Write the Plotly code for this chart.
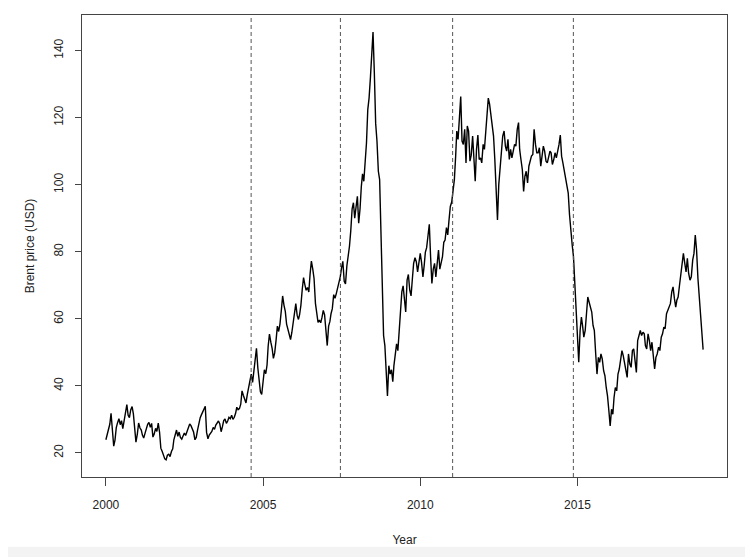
import pandas as pd
import plotly.graph_objects as go

# Brent price readings, two per month (1st and 16th)
p2000 = [23.9, 25.8, 27.2, 28.6, 31.8, 27.0, 22.0, 23.8, 27.5, 29.0, 30.2, 28.4,
         29.6, 27.2, 30.1, 31.8, 34.4, 31.2, 30.5, 32.8, 33.8, 31.6, 26.5, 23.2]
p2001 = [25.6, 28.9, 27.4, 26.8, 25.3, 24.4, 25.9, 27.3, 28.5, 29.1, 27.6, 28.8,
         24.7, 25.6, 27.3, 26.4, 28.9, 26.2, 21.4, 20.5, 19.3, 18.2, 17.9, 19.3]
p2002 = [19.6, 18.9, 20.4, 21.2, 23.9, 25.6, 26.8, 24.9, 26.2, 24.6, 24.1, 25.0,
         25.9, 25.2, 26.3, 27.4, 28.6, 28.1, 27.3, 26.2, 23.9, 24.6, 26.8, 29.1]
p2003 = [30.5, 31.4, 32.2, 33.0, 33.9, 26.1, 24.2, 25.3, 25.8, 26.4, 27.6, 27.0,
         28.3, 28.9, 29.5, 28.7, 26.3, 27.8, 29.6, 30.1, 28.8, 29.5, 30.6, 30.2]
p2004 = [31.2, 30.0, 30.6, 31.8, 33.6, 32.9, 33.2, 34.5, 38.5, 37.2, 35.6, 34.9,
         37.4, 39.8, 42.2, 43.5, 41.0, 44.6, 48.6, 51.2, 45.3, 42.0, 38.2, 37.4]
p2005 = [42.0, 44.8, 43.6, 46.2, 51.8, 55.4, 53.0, 51.2, 48.2, 49.8, 53.6, 57.8,
         56.2, 58.4, 62.5, 66.8, 64.0, 62.2, 58.4, 56.9, 55.2, 53.8, 55.9, 58.6]
p2006 = [61.8, 64.5, 61.0, 59.8, 61.2, 64.0, 68.8, 72.3, 70.2, 68.5, 69.3, 68.0,
         73.4, 77.2, 74.8, 72.0, 64.6, 61.5, 58.9, 59.6, 58.8, 60.4, 62.5, 61.2]
p2007 = [55.3, 52.0, 57.8, 59.2, 61.5, 63.0, 67.2, 66.1, 67.5, 69.0, 70.3, 72.5,
         75.2, 77.1, 71.2, 70.4, 75.8, 78.6, 81.6, 86.2, 92.8, 94.6, 90.0, 93.2]
p2008 = [96.5, 88.5, 92.8, 99.5, 103.2, 101.0, 106.8, 112.5, 122.4, 125.8, 132.0, 137.5,
         145.5, 133.6, 118.2, 113.0, 104.0, 101.5, 88.0, 72.0, 55.0, 52.0, 44.5, 37.0]
p2009 = [46.0, 43.5, 44.8, 41.2, 46.0, 49.8, 52.5, 50.5, 57.2, 60.8, 68.0, 69.8,
         64.5, 62.0, 71.5, 73.2, 68.5, 66.8, 71.8, 76.5, 78.2, 77.0, 74.0, 76.5]
p2010 = [79.5, 76.8, 72.5, 76.0, 79.8, 81.2, 84.5, 88.2, 78.5, 70.5, 74.8, 76.5,
         72.5, 77.0, 80.5, 74.8, 77.2, 78.5, 82.8, 83.5, 87.2, 85.0, 89.5, 93.5]
p2011 = [94.8, 97.5, 101.5, 108.5, 116.0, 113.5, 121.5, 126.3, 113.0, 112.0, 116.5, 106.5,
         117.5, 116.0, 107.0, 108.8, 114.5, 109.0, 101.0, 110.5, 114.8, 107.5, 108.0, 106.5]
p2012 = [112.0, 110.5, 116.5, 120.5, 125.8, 124.0, 120.5, 118.0, 114.5, 107.5, 97.0, 89.5,
         100.0, 104.5, 109.5, 114.5, 116.0, 111.5, 110.0, 113.5, 107.5, 110.5, 108.0, 110.5]
p2013 = [112.0, 111.5, 116.5, 118.5, 110.5, 107.5, 104.5, 98.0, 102.5, 104.0, 100.5, 105.5,
         107.5, 108.5, 109.0, 116.5, 112.0, 109.5, 109.5, 111.0, 105.5, 108.0, 111.5, 110.0]
p2014 = [107.0, 106.5, 108.5, 110.0, 109.5, 106.0, 107.5, 109.5, 108.0, 109.8, 112.0, 114.8,
         108.5, 106.5, 104.0, 102.5, 100.5, 97.5, 91.0, 85.5, 82.0, 78.5, 69.5, 61.0]
p2015 = [55.5, 47.0, 56.5, 60.5, 58.0, 54.5, 56.5, 62.5, 66.5, 65.0, 63.5, 62.0,
         58.0, 56.5, 49.5, 43.5, 48.5, 47.0, 49.5, 48.0, 44.5, 43.0, 39.5, 37.0]
p2016 = [32.5, 28.0, 33.0, 31.5, 36.5, 39.5, 38.5, 43.5, 45.0, 48.5, 50.5, 49.0,
         47.0, 44.5, 42.5, 49.5, 46.5, 45.5, 50.5, 51.0, 47.5, 44.0, 53.5, 55.0]
p2017 = [56.5, 55.0, 56.0, 55.5, 52.0, 51.0, 55.5, 53.5, 50.5, 53.0, 47.5, 45.0,
         48.5, 49.5, 51.5, 50.5, 54.5, 55.5, 57.5, 57.0, 61.5, 62.5, 63.5, 64.5]
p2018 = [68.0, 69.5, 66.0, 63.5, 65.5, 66.5, 70.0, 73.5, 75.0, 79.5, 76.5, 74.0,
         78.0, 73.5, 71.5, 72.5, 77.5, 79.5, 85.0, 80.5, 72.0, 66.5, 61.5, 56.5]
p_last = [50.8]  # 2018-12-31

event_years = [2004.62, 2007.46, 2011.03, 2014.87]
x_ticks = [2000, 2005, 2010, 2015]
x_tick_labels = ["2000", "2005", "2010", "2015"]
y_ticks = [20, 40, 60, 80, 100, 120, 140]
y_tick_labels = ["20", "40", "60", "80", "100", "120", "140"]

prices = (p2000 + p2001 + p2002 + p2003 + p2004 + p2005 + p2006 + p2007 + p2008 + p2009
          + p2010 + p2011 + p2012 + p2013 + p2014 + p2015 + p2016 + p2017 + p2018 + p_last)

dates = []
for y in range(2000, 2019):
    for m in range(1, 13):
        dates.append(pd.Timestamp(y, m, 1))
        dates.append(pd.Timestamp(y, m, 16))
dates.append(pd.Timestamp(2018, 12, 31))


def dec_year(d):
    start = pd.Timestamp(d.year, 1, 1)
    end = pd.Timestamp(d.year + 1, 1, 1)
    return d.year + (d - start) / (end - start)


xs = [dec_year(d) for d in dates]

fig = go.Figure()
fig.add_trace(go.Scatter(x=xs, y=prices, mode="lines",
                         line=dict(color="black", width=1.4), showlegend=False))

xmin, xmax = min(xs), max(xs)
ymin, ymax = min(prices), max(prices)
xpad = (xmax - xmin) * 0.04
ypad = (ymax - ymin) * 0.04

shapes = []
for ev in event_years:
    shapes.append(dict(type="line", xref="x", yref="paper", x0=ev, x1=ev, y0=0, y1=1,
                       line=dict(color="#555555", width=1, dash="4px,3px")))
shapes.append(dict(type="rect", xref="paper", yref="paper", x0=-0.2, x1=1.1,
                   y0=-0.2, y1=-0.151, fillcolor="#f3f3f3", line=dict(width=0),
                   layer="below"))

font = "Liberation Sans, Arial, sans-serif"
fig.update_layout(
    width=745, height=549,
    margin=dict(l=74, r=26, t=7, b=80),
    paper_bgcolor="white", plot_bgcolor="white",
    font=dict(family=font, size=12, color="#222222"),
    shapes=shapes,
    xaxis=dict(range=[xmin - xpad, xmax + xpad], tickvals=x_ticks, ticktext=x_tick_labels,
               ticks="outside", ticklen=8, tickcolor="#444444", showgrid=False,
               zeroline=False, showline=True, linecolor="#444444", linewidth=1,
               mirror=True, ticklabelstandoff=9,
               title=dict(text="Year", standoff=24, font=dict(size=12))),
    yaxis=dict(range=[ymin - ypad, ymax + ypad], tickvals=y_ticks, ticktext=y_tick_labels,
               ticks="outside", ticklen=6, tickcolor="#444444", showgrid=False,
               zeroline=False, showline=True, linecolor="#444444", linewidth=1,
               mirror=True, tickangle=-90, ticklabelstandoff=7,
               title=dict(text="Brent price (USD)", standoff=15, font=dict(size=12))),
)

fig.write_html("out.html")
